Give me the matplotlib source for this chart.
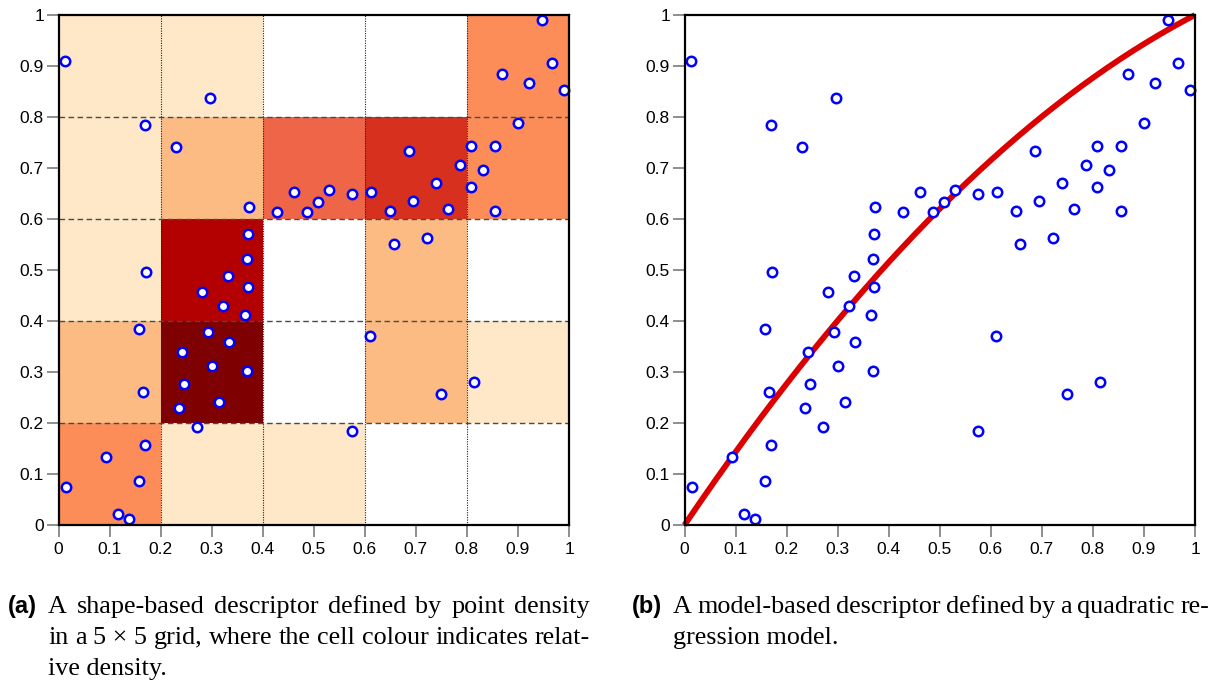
import numpy as np
import matplotlib
matplotlib.use('Agg')
import matplotlib.pyplot as plt
from matplotlib.colors import ListedColormap, BoundaryNorm

# sample points (same set on both panels)
pts_x = [0.012, 0.169, 0.230, 0.296, 0.3735, 0.372, 0.370, 0.332, 0.172, 0.428,
         0.462, 0.487, 0.508, 0.947, 0.967, 0.868, 0.921, 0.990, 0.900, 0.809,
         0.8545, 0.787, 0.831, 0.809, 0.8545, 0.687, 0.740, 0.613, 0.695, 0.763,
         0.649, 0.574, 0.529, 0.6565, 0.722, 0.371, 0.282, 0.322, 0.366, 0.2925,
         0.334, 0.241, 0.300, 0.370, 0.2455, 0.315, 0.237, 0.2716, 0.1585, 0.165,
         0.170, 0.094, 0.158, 0.014, 0.117, 0.138, 0.611, 0.813, 0.750, 0.575]
pts_y = [0.910, 0.785, 0.742, 0.837, 0.6235, 0.571, 0.522, 0.489, 0.496, 0.614,
         0.6535, 0.614, 0.634, 0.990, 0.905, 0.884, 0.867, 0.852, 0.788, 0.7425,
         0.744, 0.7065, 0.697, 0.663, 0.616, 0.734, 0.671, 0.6535, 0.636, 0.620,
         0.616, 0.650, 0.6575, 0.551, 0.562, 0.467, 0.456, 0.429, 0.411, 0.379,
         0.359, 0.339, 0.312, 0.301, 0.276, 0.242, 0.229, 0.1915, 0.384, 0.261,
         0.157, 0.134, 0.086, 0.075, 0.022, 0.012, 0.371, 0.280, 0.256, 0.184]

# density level of each 5x5 cell, rows from bottom to top
cell_level = [
    [3, 1, 1, 0, 0],
    [2, 7, 0, 2, 1],
    [1, 6, 0, 2, 0],
    [1, 2, 4, 5, 3],
    [1, 1, 0, 0, 3],
]
level_colors = ['#ffffff', '#fee8c8', '#fdbb84', '#fc8d59', '#ef6548',
                '#d7301f', '#b30000', '#7f0000']

# quadratic model y = a*x + b*x^2
coef_a = 1.48
coef_b = -0.48

ticks = [0, 0.1, 0.2, 0.3, 0.4, 0.5, 0.6, 0.7, 0.8, 0.9, 1]
tick_labels = ['0', '0.1', '0.2', '0.3', '0.4', '0.5', '0.6', '0.7', '0.8', '0.9', '1']

cap_a = [['A', 'shape-based', 'descriptor', 'defined', 'by', 'point', 'density'],
         ['in', 'a', '5 \u00d7 5', 'grid,', 'where', 'the', 'cell', 'colour', 'indicates', 'relat-'],
         ['ive', 'density.']]
cap_b = [['A', 'model-based', 'descriptor', 'defined', 'by', 'a', 'quadratic', 're-'],
         ['gression', 'model.']]

W, H = 1220, 684
fig = plt.figure(figsize=(W / 100, H / 100), dpi=100)

ax1 = fig.add_axes([58.5 / W, 1 - 525 / H, 510.5 / W, 510 / H])
ax2 = fig.add_axes([684.5 / W, 1 - 525 / H, 510.5 / W, 510 / H])


def style_axes(ax):
    ax.set_xlim(0, 1)
    ax.set_ylim(0, 1)
    ax.set_xticks(ticks)
    ax.set_yticks(ticks)
    ax.set_xticklabels(tick_labels, fontsize=12.5, family='Liberation Sans')
    ax.set_yticklabels(tick_labels, fontsize=12.5, family='Liberation Sans')
    for s in ax.spines.values():
        s.set_linewidth(1.6)
        s.set_color('black')
        s.set_zorder(6)
    ax.tick_params(direction='out', length=8.5, width=1.1, color='#707070', pad=2)
    ax.tick_params(axis='x', pad=4)


# left: density grid
edges = np.linspace(0, 1, 6)
cmap = ListedColormap(level_colors)
norm = BoundaryNorm(np.arange(-0.5, len(level_colors)), cmap.N)
ax1.pcolormesh(edges, edges, np.array(cell_level), cmap=cmap, norm=norm, zorder=1)
for v in edges[1:-1]:
    ax1.axhline(v, color='#4a4a4a', lw=1.0, ls=(0, (4, 2.5)), zorder=2)
    ax1.axvline(v, color='#222222', lw=0.8, ls=(0, (1, 1.2)), zorder=2)
ax1.plot(pts_x, pts_y, 'o', ms=6.8, mfc='white', mec='#0000ff', mew=1.8,
         zorder=4, clip_on=False)
style_axes(ax1)

# right: regression curve
xx = np.linspace(0, 1, 200)
ax2.plot(xx, coef_a * xx + coef_b * xx ** 2, color='#dc0000', lw=4.2,
         solid_capstyle='butt', zorder=3, clip_on=False)
ax2.plot(pts_x, pts_y, 'o', ms=6.8, mfc='white', mec='#0000ff', mew=1.8,
         zorder=4, clip_on=False)
style_axes(ax2)

# captions, justified like the paper's text
renderer = fig.canvas.get_renderer()
serif = dict(family='Liberation Serif', size=18.8)


def caption(label, lines, x_lab, x0, x1, y0, dy):
    fig.text(x_lab / W, 1 - y0 / H, label, family='Liberation Sans',
             weight='bold', size=17, va='baseline')
    for i, words in enumerate(lines):
        y = 1 - (y0 + i * dy) / H
        if i == len(lines) - 1:
            fig.text(x0 / W, y, ' '.join(words), va='baseline', **serif)
            continue
        txts = [fig.text(0, y, w, va='baseline', **serif) for w in words]
        widths = [t.get_window_extent(renderer).width for t in txts]
        gap = (x1 - x0 - sum(widths)) / (len(words) - 1)
        pos = x0
        for t, w in zip(txts, widths):
            t.set_x(pos / W)
            pos += w + gap


caption('(a)', cap_a, 8, 48, 590, 613, 31)
caption('(b)', cap_b, 632, 673, 1209, 613, 31)

fig.savefig('out.png', dpi=100)
